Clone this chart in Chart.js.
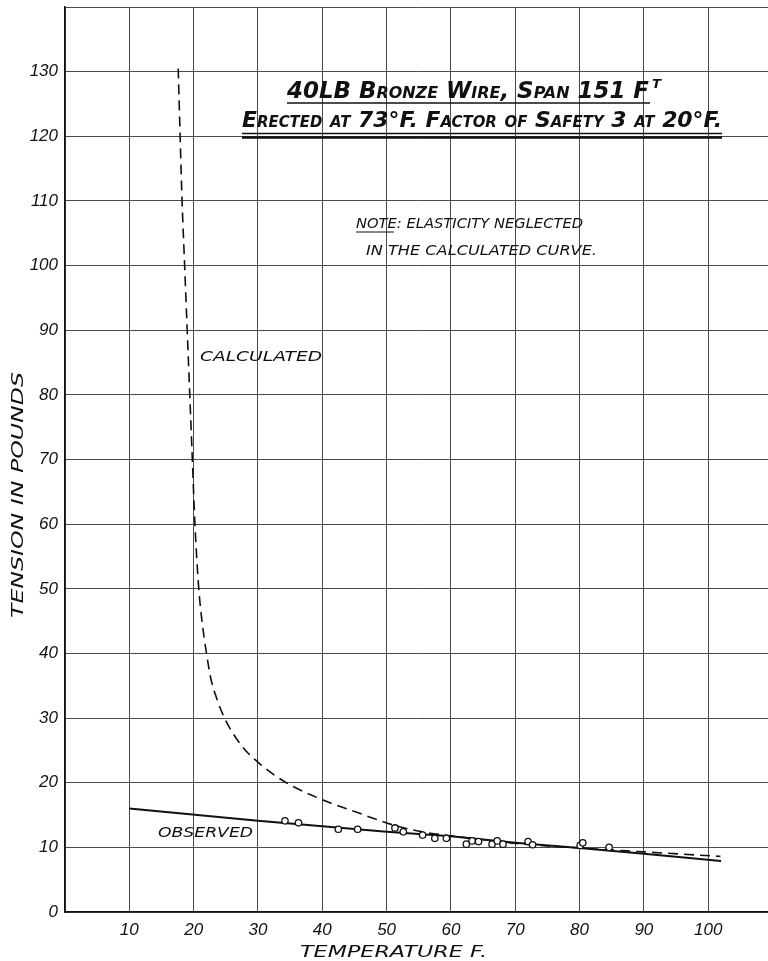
<!DOCTYPE html>
<html>
<head>
<meta charset="utf-8">
<style>
  html, body { margin: 0; padding: 0; background: #fff; overflow: hidden; }
  canvas { display: block; }
</style>
</head>
<body>
<canvas id="myChart" width="768" height="961"></canvas>
<script src="https://cdn.jsdelivr.net/npm/chart.js@4/dist/chart.umd.min.js"></script>
<script>
// temperature (F) / tension (lb)
var calcTemp = [17.6, 17.9, 18.2, 18.6, 19.0, 19.4, 19.8, 20.2, 20.8, 21.3, 22.0, 22.7, 23.6, 24.8, 27.4, 30.2, 34.4, 40.2, 45.7, 50.9, 55.6, 60.7, 65.9, 70.2, 80, 90, 101.9];
var calcTension = [130.5, 120, 110, 100, 90, 80, 70, 60, 50, 45, 40, 36, 33, 30, 25.8, 23.0, 20.0, 17.3, 15.3, 13.5, 12.4, 11.7, 11.1, 10.6, 9.9, 9.3, 8.6];

var obsLineTemp = [10, 30, 50, 60, 70, 80, 90, 102];
var obsLineTension = [16.0, 14.1, 12.4, 11.7, 10.7, 9.9, 9.0, 7.9];

var obsTemp = [34.2, 36.3, 42.5, 45.5, 51.3, 52.6, 55.6, 57.5, 59.3, 62.4, 63.3, 64.3, 66.4, 67.2, 68.1, 72.0, 72.7, 80.1, 80.5, 84.6];
var obsTension = [14.1, 13.8, 12.8, 12.8, 13.0, 12.4, 11.9, 11.4, 11.4, 10.5, 11.0, 10.9, 10.5, 11.0, 10.5, 10.9, 10.4, 10.3, 10.7, 10.0];

var xGrid = [0, 10, 20, 30, 40, 50, 60, 70, 80, 90, 100];
var xLabels = [10, 20, 30, 40, 50, 60, 70, 80, 90, 100];
var yGrid = [0, 10, 20, 30, 40, 50, 60, 70, 80, 90, 100, 110, 120, 130, 140];
var yLabels = [0, 10, 20, 30, 40, 50, 60, 70, 80, 90, 100, 110, 120, 130];

function pairs(xs, ys) {
  return xs.map(function (x, i) { return { x: x, y: ys[i] }; });
}

// draw text stretched to a measured width
function fit(c, font, text, x, y, w, caps) {
  c.font = font;
  c.fontVariantCaps = caps ? 'small-caps' : 'normal';
  var m = c.measureText(text).width;
  c.save();
  c.translate(x, y);
  c.scale(w / m, 1);
  c.fillText(text, 0, 0);
  c.restore();
}

function line(c, x1, y1, x2, y2, lw) {
  c.lineWidth = lw;
  c.beginPath();
  c.moveTo(x1, y1);
  c.lineTo(x2, y2);
  c.stroke();
}

var notes = {
  id: 'notes',
  afterDraw: function (chart) {
    var c = chart.ctx;
    c.save();
    c.fillStyle = '#111';
    c.strokeStyle = '#111';
    c.textAlign = 'left';
    c.textBaseline = 'alphabetic';

    fit(c, 'italic bold 23px "DejaVu Sans"', '40LB Bronze Wire, Span 151 F', 287, 98, 362, true);
    fit(c, 'italic bold 12px "DejaVu Sans"', 'T', 652, 88, 9, false);
    line(c, 287, 103, 650, 103, 1.5);

    fit(c, 'italic bold 22px "DejaVu Sans"', 'Erected at 73°F. Factor of Safety 3 at 20°F.', 242, 127, 480, true);
    line(c, 242, 133.5, 722, 133.5, 1.5);
    line(c, 242, 137.5, 722, 137.5, 2.5);

    fit(c, 'italic 14px "DejaVu Sans"', 'NOTE: ELASTICITY NEGLECTED', 356, 228, 227, false);
    line(c, 356, 232, 394, 232, 1.2);
    fit(c, 'italic 14px "DejaVu Sans"', 'IN THE CALCULATED CURVE.', 366, 255, 231, false);

    fit(c, 'italic 14px "DejaVu Sans"', 'CALCULATED', 200, 361, 122, false);
    fit(c, 'italic 14px "DejaVu Sans"', 'OBSERVED', 158, 837, 95, false);

    fit(c, 'italic 16px "DejaVu Sans"', 'TEMPERATURE F.', 300, 957, 187, false);

    c.save();
    c.translate(23, 618);
    c.rotate(-Math.PI / 2);
    fit(c, 'italic 16px "DejaVu Sans"', 'TENSION IN POUNDS', 0, 0, 246, false);
    c.restore();

    c.restore();
  }
};

var ctx = document.getElementById('myChart').getContext('2d');
var myChart = new Chart(ctx, {
  type: 'scatter',
  data: {
    datasets: [{
      label: 'Observed readings',
      data: pairs(obsTemp, obsTension),
      showLine: false,
      pointStyle: 'circle',
      pointRadius: 3.2,
      pointBorderWidth: 1.3,
      pointBackgroundColor: '#fff',
      pointBorderColor: '#111',
      order: 0
    }, {
      label: 'Observed',
      data: pairs(obsLineTemp, obsLineTension),
      showLine: true,
      borderColor: '#111',
      borderWidth: 2,
      pointRadius: 0,
      tension: 0,
      order: 1
    }, {
      label: 'Calculated',
      data: pairs(calcTemp, calcTension),
      showLine: true,
      borderColor: '#111',
      borderWidth: 1.6,
      borderDash: [10, 6],
      pointRadius: 0,
      cubicInterpolationMode: 'monotone',
      order: 2
    }]
  },
  options: {
    responsive: false,
    animation: false,
    devicePixelRatio: 1,
    layout: { autoPadding: false, padding: { top: 7, right: 0, bottom: 0, left: 0 } },
    plugins: {
      legend: { display: false },
      tooltip: { enabled: false }
    },
    scales: {
      x: {
        type: 'linear',
        min: 0,
        max: 109.3,
        afterBuildTicks: function (scale) {
          scale.ticks = xGrid.map(function (v) { return { value: v }; });
        },
        afterFit: function (scale) {
          scale.height = 49;
          scale.paddingLeft = 0;
          scale.paddingRight = 0;
        },
        grid: { color: '#4a4a4a', lineWidth: 1, drawTicks: false },
        border: { color: '#111', width: 1.5 },
        ticks: {
          padding: 8,
          color: '#111',
          font: { family: 'Liberation Sans', size: 17, style: 'italic' },
          callback: function (v) { return xLabels.indexOf(v) >= 0 ? String(v) : ''; }
        }
      },
      y: {
        type: 'linear',
        min: 0,
        max: 140,
        afterBuildTicks: function (scale) {
          scale.ticks = yGrid.map(function (v) { return { value: v }; });
        },
        afterFit: function (scale) {
          scale.width = 65;
          scale.paddingTop = 0;
          scale.paddingBottom = 0;
        },
        grid: { color: '#4a4a4a', lineWidth: 1, drawTicks: false },
        border: { color: '#111', width: 1.5 },
        ticks: {
          padding: 7,
          color: '#111',
          font: { family: 'Liberation Sans', size: 17, style: 'italic' },
          callback: function (v) { return yLabels.indexOf(v) >= 0 ? String(v) : ''; }
        }
      }
    }
  },
  plugins: [notes]
});
</script>
</body>
</html>
